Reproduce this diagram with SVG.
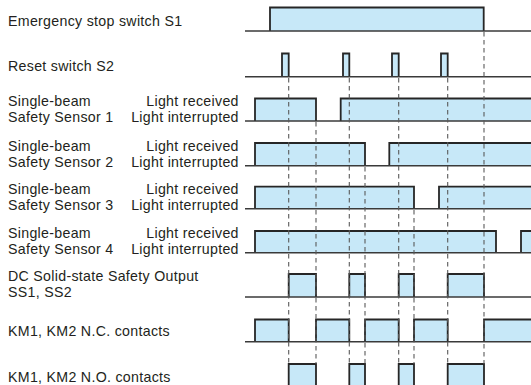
<svg xmlns="http://www.w3.org/2000/svg" width="531" height="385" viewBox="0 0 531 385">
<style>
text{font-family:"Liberation Sans",Arial,sans-serif;font-size:14.2px;letter-spacing:0.3px;fill:#231f20}
.r{text-anchor:end}
.base{stroke:#3a3a3a;stroke-width:1.4;fill:none}
.p{fill:#c7e8f8;stroke:#262626;stroke-width:1.8;stroke-linejoin:miter}
.d{stroke:#5a5a5a;stroke-width:1.1;stroke-dasharray:4.5 3.5;fill:none}
</style>
<rect width="531" height="385" fill="#fff"/>

<g id="s1">
<text x="8" y="25.5">Emergency stop switch S1</text>
<path class="p" d="M270 31V7.5H483.7V31"/>
<path class="base" d="M245 31H531"/>
</g>

<g id="s2">
<text x="8" y="71">Reset switch S2</text>
<path class="p" d="M282 76.7V53.5H288.7V76.7"/>
<path class="p" d="M343 76.7V53.5H349.3V76.7"/>
<path class="p" d="M392 76.7V53.5H398.7V76.7"/>
<path class="p" d="M441 76.7V53.5H447.7V76.7"/>
<path class="base" d="M245 76.7H531"/>
</g>

<g id="sensor1">
<text x="8" y="106.1">Single-beam<tspan x="8" dy="16">Safety Sensor 1</tspan></text>
<text class="r" x="238.8" y="106.1">Light received<tspan x="238.8" dy="16">Light interrupted</tspan></text>
<path class="p" d="M255 121V98.5H316V121"/>
<path class="p" d="M340.7 121V98.5H533V121"/>
<path class="base" d="M245 121H531"/>
</g>

<g id="sensor2">
<text x="8" y="150.9">Single-beam<tspan x="8" dy="16">Safety Sensor 2</tspan></text>
<text class="r" x="238.8" y="150.9">Light received<tspan x="238.8" dy="16">Light interrupted</tspan></text>
<path class="p" d="M255 165.7V143H365V165.7"/>
<path class="p" d="M389.3 165.7V143H533V165.7"/>
<path class="base" d="M245 165.7H531"/>
</g>

<g id="sensor3">
<text x="8" y="193.9">Single-beam<tspan x="8" dy="16">Safety Sensor 3</tspan></text>
<text class="r" x="238.8" y="193.9">Light received<tspan x="238.8" dy="16">Light interrupted</tspan></text>
<path class="p" d="M255 208.7V186.7H414V208.7"/>
<path class="p" d="M439 208.7V186.7H533V208.7"/>
<path class="base" d="M245 208.7H531"/>
</g>

<g id="sensor4">
<text x="8" y="237.8">Single-beam<tspan x="8" dy="16">Safety Sensor 4</tspan></text>
<text class="r" x="238.8" y="237.8">Light received<tspan x="238.8" dy="16">Light interrupted</tspan></text>
<path class="p" d="M255 252.7V231H496V252.7"/>
<path class="p" d="M521 252.7V231H533V252.7"/>
<path class="base" d="M245 252.7H531"/>
</g>

<g id="ss">
<text x="8" y="281.3">DC Solid-state Safety Output<tspan x="8" dy="16">SS1, SS2</tspan></text>
<path class="p" d="M288.7 297V274H316V297"/>
<path class="p" d="M349.3 297V274H365V297"/>
<path class="p" d="M398.7 297V274H414V297"/>
<path class="p" d="M447.7 297V274H484V297"/>
<path class="base" d="M245 297H531"/>
</g>

<g id="km-nc">
<text x="8" y="336">KM1, KM2 N.C. contacts</text>
<path class="p" d="M255 341.7V319.5H288.7V341.7"/>
<path class="p" d="M316 341.7V319.5H349.3V341.7"/>
<path class="p" d="M365 341.7V319.5H398.7V341.7"/>
<path class="p" d="M414 341.7V319.5H447.7V341.7"/>
<path class="p" d="M484 341.7V319.5H533V341.7"/>
<path class="base" d="M245 341.7H531"/>
</g>

<g id="km-no">
<text x="8" y="381.5">KM1, KM2 N.O. contacts</text>
<path class="p" d="M288.7 388V364H316V388"/>
<path class="p" d="M349.3 388V364H365V388"/>
<path class="p" d="M398.7 388V364H414V388"/>
<path class="p" d="M447.7 388V364H484V388"/>
</g>

<g id="connectors">
<path class="d" d="M288.7 78V364"/>
<path class="d" d="M316 122V364"/>
<path class="d" d="M349.3 78V364"/>
<path class="d" d="M365 167V364"/>
<path class="d" d="M398.7 78V364"/>
<path class="d" d="M414 210V364"/>
<path class="d" d="M447.7 78V364"/>
<path class="d" d="M484 32V364"/>
</g>
</svg>
